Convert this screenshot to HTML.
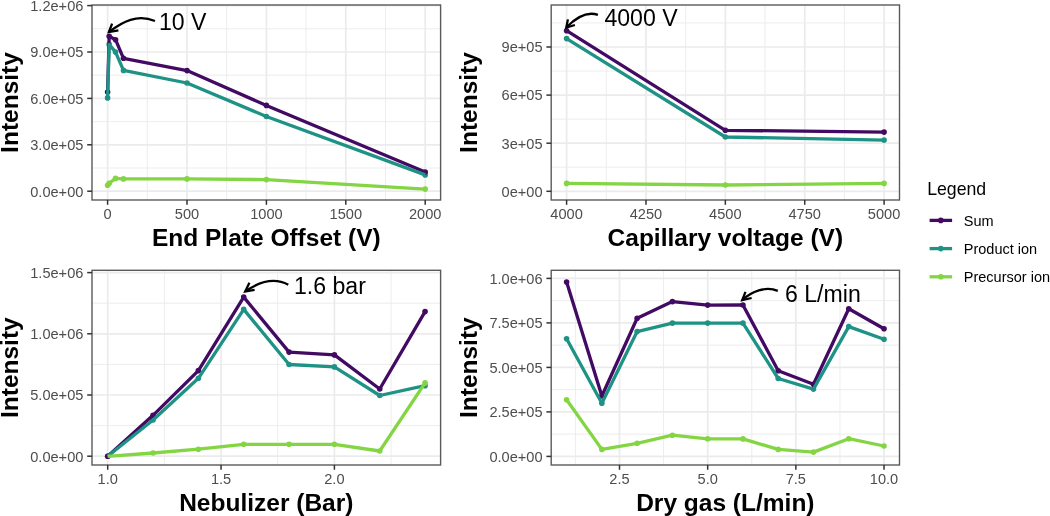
<!DOCTYPE html>
<html><head><meta charset="utf-8"><style>
html,body{margin:0;padding:0;background:#fff;width:1050px;height:516px;overflow:hidden}
svg{display:block;will-change:transform;filter:blur(0.35px)}
text{font-family:"Liberation Sans", sans-serif}
.tk{font-size:14.6px;fill:#4D4D4D}
.ti{font-size:24.5px;font-weight:bold;fill:#000}
.an{font-size:23.1px;fill:#000}
.lt{font-size:17.7px;fill:#000}
.lg{font-size:14.5px;fill:#000}
</style></head><body>
<svg width="1050" height="516" viewBox="0 0 1050 516">
<rect width="1050" height="516" fill="#fff"/>
<line x1="147.3" y1="5" x2="147.3" y2="200" stroke="#EBEBEB" stroke-width="0.9"/>
<line x1="226.7" y1="5" x2="226.7" y2="200" stroke="#EBEBEB" stroke-width="0.9"/>
<line x1="306.1" y1="5" x2="306.1" y2="200" stroke="#EBEBEB" stroke-width="0.9"/>
<line x1="385.5" y1="5" x2="385.5" y2="200" stroke="#EBEBEB" stroke-width="0.9"/>
<line x1="92" y1="168" x2="440.6" y2="168" stroke="#EBEBEB" stroke-width="0.9"/>
<line x1="92" y1="121.6" x2="440.6" y2="121.6" stroke="#EBEBEB" stroke-width="0.9"/>
<line x1="92" y1="75.2" x2="440.6" y2="75.2" stroke="#EBEBEB" stroke-width="0.9"/>
<line x1="92" y1="28.8" x2="440.6" y2="28.8" stroke="#EBEBEB" stroke-width="0.9"/>
<line x1="107.6" y1="5" x2="107.6" y2="200" stroke="#EBEBEB" stroke-width="1.7"/>
<line x1="187" y1="5" x2="187" y2="200" stroke="#EBEBEB" stroke-width="1.7"/>
<line x1="266.4" y1="5" x2="266.4" y2="200" stroke="#EBEBEB" stroke-width="1.7"/>
<line x1="345.8" y1="5" x2="345.8" y2="200" stroke="#EBEBEB" stroke-width="1.7"/>
<line x1="425.2" y1="5" x2="425.2" y2="200" stroke="#EBEBEB" stroke-width="1.7"/>
<line x1="92" y1="191.2" x2="440.6" y2="191.2" stroke="#EBEBEB" stroke-width="1.7"/>
<line x1="92" y1="144.8" x2="440.6" y2="144.8" stroke="#EBEBEB" stroke-width="1.7"/>
<line x1="92" y1="98.4" x2="440.6" y2="98.4" stroke="#EBEBEB" stroke-width="1.7"/>
<line x1="92" y1="52" x2="440.6" y2="52" stroke="#EBEBEB" stroke-width="1.7"/>
<line x1="92" y1="5.6" x2="440.6" y2="5.6" stroke="#EBEBEB" stroke-width="1.7"/>
<circle cx="107.6" cy="97.9" r="2.8" fill="#1E9285"/>
<circle cx="109.19" cy="44.4" r="2.8" fill="#1E9285"/>
<circle cx="115.54" cy="52.1" r="2.8" fill="#1E9285"/>
<circle cx="123.48" cy="70.4" r="2.8" fill="#1E9285"/>
<circle cx="187" cy="83" r="2.8" fill="#1E9285"/>
<circle cx="266.4" cy="116.5" r="2.8" fill="#1E9285"/>
<circle cx="425.2" cy="174.9" r="2.8" fill="#1E9285"/>
<circle cx="107.6" cy="185.2" r="2.8" fill="#84D543"/>
<circle cx="109.19" cy="183.3" r="2.8" fill="#84D543"/>
<circle cx="115.54" cy="178.4" r="2.8" fill="#84D543"/>
<circle cx="123.48" cy="178.9" r="2.8" fill="#84D543"/>
<circle cx="187" cy="178.9" r="2.8" fill="#84D543"/>
<circle cx="266.4" cy="179.6" r="2.8" fill="#84D543"/>
<circle cx="425.2" cy="189.1" r="2.8" fill="#84D543"/>
<circle cx="107.6" cy="92" r="2.8" fill="#420A62"/>
<circle cx="109.19" cy="36.2" r="2.8" fill="#420A62"/>
<circle cx="115.54" cy="39.7" r="2.8" fill="#420A62"/>
<circle cx="123.48" cy="58.3" r="2.8" fill="#420A62"/>
<circle cx="187" cy="70.6" r="2.8" fill="#420A62"/>
<circle cx="266.4" cy="105.4" r="2.8" fill="#420A62"/>
<circle cx="425.2" cy="172" r="2.8" fill="#420A62"/>
<polyline points="107.6,92 109.19,36.2 115.54,39.7 123.48,58.3 187,70.6 266.4,105.4 425.2,172" fill="none" stroke="#420A62" stroke-width="3.3" stroke-linejoin="round" stroke-linecap="butt"/>
<polyline points="107.6,97.9 109.19,44.4 115.54,52.1 123.48,70.4 187,83 266.4,116.5 425.2,174.9" fill="none" stroke="#1E9285" stroke-width="3.3" stroke-linejoin="round" stroke-linecap="butt"/>
<polyline points="107.6,185.2 109.19,183.3 115.54,178.4 123.48,178.9 187,178.9 266.4,179.6 425.2,189.1" fill="none" stroke="#84D543" stroke-width="3.3" stroke-linejoin="round" stroke-linecap="butt"/>
<rect x="92" y="5" width="348.6" height="195" fill="none" stroke="#5a5a5a" stroke-width="1.4"/>
<line x1="107.6" y1="200" x2="107.6" y2="204.8" stroke="#333333" stroke-width="1.5"/>
<line x1="187" y1="200" x2="187" y2="204.8" stroke="#333333" stroke-width="1.5"/>
<line x1="266.4" y1="200" x2="266.4" y2="204.8" stroke="#333333" stroke-width="1.5"/>
<line x1="345.8" y1="200" x2="345.8" y2="204.8" stroke="#333333" stroke-width="1.5"/>
<line x1="425.2" y1="200" x2="425.2" y2="204.8" stroke="#333333" stroke-width="1.5"/>
<line x1="87.2" y1="191.2" x2="92" y2="191.2" stroke="#333333" stroke-width="1.5"/>
<line x1="87.2" y1="144.8" x2="92" y2="144.8" stroke="#333333" stroke-width="1.5"/>
<line x1="87.2" y1="98.4" x2="92" y2="98.4" stroke="#333333" stroke-width="1.5"/>
<line x1="87.2" y1="52" x2="92" y2="52" stroke="#333333" stroke-width="1.5"/>
<line x1="87.2" y1="5.6" x2="92" y2="5.6" stroke="#333333" stroke-width="1.5"/>
<text x="107.6" y="219.1" text-anchor="middle" class="tk">0</text>
<text x="187" y="219.1" text-anchor="middle" class="tk">500</text>
<text x="266.4" y="219.1" text-anchor="middle" class="tk">1000</text>
<text x="345.8" y="219.1" text-anchor="middle" class="tk">1500</text>
<text x="425.2" y="219.1" text-anchor="middle" class="tk">2000</text>
<text x="83.4" y="196.5" text-anchor="end" class="tk">0.0e+00</text>
<text x="83.4" y="150.1" text-anchor="end" class="tk">3.0e+05</text>
<text x="83.4" y="103.7" text-anchor="end" class="tk">6.0e+05</text>
<text x="83.4" y="57.3" text-anchor="end" class="tk">9.0e+05</text>
<text x="83.4" y="10.9" text-anchor="end" class="tk">1.2e+06</text>
<text x="266.3" y="245.6" text-anchor="middle" class="ti">End Plate Offset (V)</text>
<text transform="translate(17.6,102.5) rotate(-90)" x="0" y="0" text-anchor="middle" class="ti">Intensity</text>
<line x1="606.29" y1="5" x2="606.29" y2="200" stroke="#EBEBEB" stroke-width="0.9"/>
<line x1="685.66" y1="5" x2="685.66" y2="200" stroke="#EBEBEB" stroke-width="0.9"/>
<line x1="765.04" y1="5" x2="765.04" y2="200" stroke="#EBEBEB" stroke-width="0.9"/>
<line x1="844.41" y1="5" x2="844.41" y2="200" stroke="#EBEBEB" stroke-width="0.9"/>
<line x1="551.2" y1="167.25" x2="899.5" y2="167.25" stroke="#EBEBEB" stroke-width="0.9"/>
<line x1="551.2" y1="119.15" x2="899.5" y2="119.15" stroke="#EBEBEB" stroke-width="0.9"/>
<line x1="551.2" y1="71.05" x2="899.5" y2="71.05" stroke="#EBEBEB" stroke-width="0.9"/>
<line x1="551.2" y1="22.95" x2="899.5" y2="22.95" stroke="#EBEBEB" stroke-width="0.9"/>
<line x1="566.6" y1="5" x2="566.6" y2="200" stroke="#EBEBEB" stroke-width="1.7"/>
<line x1="645.98" y1="5" x2="645.98" y2="200" stroke="#EBEBEB" stroke-width="1.7"/>
<line x1="725.35" y1="5" x2="725.35" y2="200" stroke="#EBEBEB" stroke-width="1.7"/>
<line x1="804.73" y1="5" x2="804.73" y2="200" stroke="#EBEBEB" stroke-width="1.7"/>
<line x1="884.1" y1="5" x2="884.1" y2="200" stroke="#EBEBEB" stroke-width="1.7"/>
<line x1="551.2" y1="191.3" x2="899.5" y2="191.3" stroke="#EBEBEB" stroke-width="1.7"/>
<line x1="551.2" y1="143.2" x2="899.5" y2="143.2" stroke="#EBEBEB" stroke-width="1.7"/>
<line x1="551.2" y1="95.1" x2="899.5" y2="95.1" stroke="#EBEBEB" stroke-width="1.7"/>
<line x1="551.2" y1="47" x2="899.5" y2="47" stroke="#EBEBEB" stroke-width="1.7"/>
<circle cx="566.6" cy="38.6" r="2.8" fill="#1E9285"/>
<circle cx="725.35" cy="137" r="2.8" fill="#1E9285"/>
<circle cx="884.1" cy="140.1" r="2.8" fill="#1E9285"/>
<circle cx="566.6" cy="183.4" r="2.8" fill="#84D543"/>
<circle cx="725.35" cy="185" r="2.8" fill="#84D543"/>
<circle cx="884.1" cy="183.4" r="2.8" fill="#84D543"/>
<circle cx="566.6" cy="30.7" r="2.8" fill="#420A62"/>
<circle cx="725.35" cy="130.3" r="2.8" fill="#420A62"/>
<circle cx="884.1" cy="132.1" r="2.8" fill="#420A62"/>
<polyline points="566.6,30.7 725.35,130.3 884.1,132.1" fill="none" stroke="#420A62" stroke-width="3.3" stroke-linejoin="round" stroke-linecap="butt"/>
<polyline points="566.6,38.6 725.35,137 884.1,140.1" fill="none" stroke="#1E9285" stroke-width="3.3" stroke-linejoin="round" stroke-linecap="butt"/>
<polyline points="566.6,183.4 725.35,185 884.1,183.4" fill="none" stroke="#84D543" stroke-width="3.3" stroke-linejoin="round" stroke-linecap="butt"/>
<rect x="551.2" y="5" width="348.3" height="195" fill="none" stroke="#5a5a5a" stroke-width="1.4"/>
<line x1="566.6" y1="200" x2="566.6" y2="204.8" stroke="#333333" stroke-width="1.5"/>
<line x1="645.98" y1="200" x2="645.98" y2="204.8" stroke="#333333" stroke-width="1.5"/>
<line x1="725.35" y1="200" x2="725.35" y2="204.8" stroke="#333333" stroke-width="1.5"/>
<line x1="804.73" y1="200" x2="804.73" y2="204.8" stroke="#333333" stroke-width="1.5"/>
<line x1="884.1" y1="200" x2="884.1" y2="204.8" stroke="#333333" stroke-width="1.5"/>
<line x1="546.4" y1="191.3" x2="551.2" y2="191.3" stroke="#333333" stroke-width="1.5"/>
<line x1="546.4" y1="143.2" x2="551.2" y2="143.2" stroke="#333333" stroke-width="1.5"/>
<line x1="546.4" y1="95.1" x2="551.2" y2="95.1" stroke="#333333" stroke-width="1.5"/>
<line x1="546.4" y1="47" x2="551.2" y2="47" stroke="#333333" stroke-width="1.5"/>
<text x="566.6" y="219.1" text-anchor="middle" class="tk">4000</text>
<text x="645.98" y="219.1" text-anchor="middle" class="tk">4250</text>
<text x="725.35" y="219.1" text-anchor="middle" class="tk">4500</text>
<text x="804.73" y="219.1" text-anchor="middle" class="tk">4750</text>
<text x="884.1" y="219.1" text-anchor="middle" class="tk">5000</text>
<text x="542.6" y="196.6" text-anchor="end" class="tk">0e+00</text>
<text x="542.6" y="148.5" text-anchor="end" class="tk">3e+05</text>
<text x="542.6" y="100.4" text-anchor="end" class="tk">6e+05</text>
<text x="542.6" y="52.3" text-anchor="end" class="tk">9e+05</text>
<text x="725.35" y="245.6" text-anchor="middle" class="ti">Capillary voltage (V)</text>
<text transform="translate(476.8,102.5) rotate(-90)" x="0" y="0" text-anchor="middle" class="ti">Intensity</text>
<line x1="164.38" y1="270.3" x2="164.38" y2="465" stroke="#EBEBEB" stroke-width="0.9"/>
<line x1="277.72" y1="270.3" x2="277.72" y2="465" stroke="#EBEBEB" stroke-width="0.9"/>
<line x1="391.07" y1="270.3" x2="391.07" y2="465" stroke="#EBEBEB" stroke-width="0.9"/>
<line x1="92" y1="425.6" x2="440.6" y2="425.6" stroke="#EBEBEB" stroke-width="0.9"/>
<line x1="92" y1="364.4" x2="440.6" y2="364.4" stroke="#EBEBEB" stroke-width="0.9"/>
<line x1="92" y1="303.2" x2="440.6" y2="303.2" stroke="#EBEBEB" stroke-width="0.9"/>
<line x1="107.7" y1="270.3" x2="107.7" y2="465" stroke="#EBEBEB" stroke-width="1.7"/>
<line x1="221.05" y1="270.3" x2="221.05" y2="465" stroke="#EBEBEB" stroke-width="1.7"/>
<line x1="334.4" y1="270.3" x2="334.4" y2="465" stroke="#EBEBEB" stroke-width="1.7"/>
<line x1="92" y1="456.2" x2="440.6" y2="456.2" stroke="#EBEBEB" stroke-width="1.7"/>
<line x1="92" y1="395" x2="440.6" y2="395" stroke="#EBEBEB" stroke-width="1.7"/>
<line x1="92" y1="333.8" x2="440.6" y2="333.8" stroke="#EBEBEB" stroke-width="1.7"/>
<line x1="92" y1="272.6" x2="440.6" y2="272.6" stroke="#EBEBEB" stroke-width="1.7"/>
<circle cx="107.7" cy="456.2" r="2.8" fill="#1E9285"/>
<circle cx="153.04" cy="420" r="2.8" fill="#1E9285"/>
<circle cx="198.38" cy="378.3" r="2.8" fill="#1E9285"/>
<circle cx="243.72" cy="309.4" r="2.8" fill="#1E9285"/>
<circle cx="289.06" cy="364.5" r="2.8" fill="#1E9285"/>
<circle cx="334.4" cy="366.9" r="2.8" fill="#1E9285"/>
<circle cx="379.74" cy="395.5" r="2.8" fill="#1E9285"/>
<circle cx="425.08" cy="385.7" r="2.8" fill="#1E9285"/>
<circle cx="107.7" cy="456.3" r="2.8" fill="#84D543"/>
<circle cx="153.04" cy="453" r="2.8" fill="#84D543"/>
<circle cx="198.38" cy="449.2" r="2.8" fill="#84D543"/>
<circle cx="243.72" cy="444.3" r="2.8" fill="#84D543"/>
<circle cx="289.06" cy="444.3" r="2.8" fill="#84D543"/>
<circle cx="334.4" cy="444.3" r="2.8" fill="#84D543"/>
<circle cx="379.74" cy="451" r="2.8" fill="#84D543"/>
<circle cx="425.08" cy="382.9" r="2.8" fill="#84D543"/>
<circle cx="107.7" cy="456.2" r="2.8" fill="#420A62"/>
<circle cx="153.04" cy="415.3" r="2.8" fill="#420A62"/>
<circle cx="198.38" cy="370.6" r="2.8" fill="#420A62"/>
<circle cx="243.72" cy="297.1" r="2.8" fill="#420A62"/>
<circle cx="289.06" cy="352.1" r="2.8" fill="#420A62"/>
<circle cx="334.4" cy="354.9" r="2.8" fill="#420A62"/>
<circle cx="379.74" cy="389" r="2.8" fill="#420A62"/>
<circle cx="425.08" cy="311.6" r="2.8" fill="#420A62"/>
<polyline points="107.7,456.2 153.04,415.3 198.38,370.6 243.72,297.1 289.06,352.1 334.4,354.9 379.74,389 425.08,311.6" fill="none" stroke="#420A62" stroke-width="3.3" stroke-linejoin="round" stroke-linecap="butt"/>
<polyline points="107.7,456.2 153.04,420 198.38,378.3 243.72,309.4 289.06,364.5 334.4,366.9 379.74,395.5 425.08,385.7" fill="none" stroke="#1E9285" stroke-width="3.3" stroke-linejoin="round" stroke-linecap="butt"/>
<polyline points="107.7,456.3 153.04,453 198.38,449.2 243.72,444.3 289.06,444.3 334.4,444.3 379.74,451 425.08,382.9" fill="none" stroke="#84D543" stroke-width="3.3" stroke-linejoin="round" stroke-linecap="butt"/>
<rect x="92" y="270.3" width="348.6" height="194.7" fill="none" stroke="#5a5a5a" stroke-width="1.4"/>
<line x1="107.7" y1="465" x2="107.7" y2="469.8" stroke="#333333" stroke-width="1.5"/>
<line x1="221.05" y1="465" x2="221.05" y2="469.8" stroke="#333333" stroke-width="1.5"/>
<line x1="334.4" y1="465" x2="334.4" y2="469.8" stroke="#333333" stroke-width="1.5"/>
<line x1="87.2" y1="456.2" x2="92" y2="456.2" stroke="#333333" stroke-width="1.5"/>
<line x1="87.2" y1="395" x2="92" y2="395" stroke="#333333" stroke-width="1.5"/>
<line x1="87.2" y1="333.8" x2="92" y2="333.8" stroke="#333333" stroke-width="1.5"/>
<line x1="87.2" y1="272.6" x2="92" y2="272.6" stroke="#333333" stroke-width="1.5"/>
<text x="107.7" y="484.1" text-anchor="middle" class="tk">1.0</text>
<text x="221.05" y="484.1" text-anchor="middle" class="tk">1.5</text>
<text x="334.4" y="484.1" text-anchor="middle" class="tk">2.0</text>
<text x="83.4" y="461.5" text-anchor="end" class="tk">0.0e+00</text>
<text x="83.4" y="400.3" text-anchor="end" class="tk">5.0e+05</text>
<text x="83.4" y="339.1" text-anchor="end" class="tk">1.0e+06</text>
<text x="83.4" y="277.9" text-anchor="end" class="tk">1.5e+06</text>
<text x="266.3" y="510.6" text-anchor="middle" class="ti">Nebulizer (Bar)</text>
<text transform="translate(17.6,367.65) rotate(-90)" x="0" y="0" text-anchor="middle" class="ti">Intensity</text>
<line x1="575.42" y1="270.3" x2="575.42" y2="465" stroke="#EBEBEB" stroke-width="0.9"/>
<line x1="663.59" y1="270.3" x2="663.59" y2="465" stroke="#EBEBEB" stroke-width="0.9"/>
<line x1="751.77" y1="270.3" x2="751.77" y2="465" stroke="#EBEBEB" stroke-width="0.9"/>
<line x1="839.94" y1="270.3" x2="839.94" y2="465" stroke="#EBEBEB" stroke-width="0.9"/>
<line x1="551.2" y1="434.15" x2="899.5" y2="434.15" stroke="#EBEBEB" stroke-width="0.9"/>
<line x1="551.2" y1="389.65" x2="899.5" y2="389.65" stroke="#EBEBEB" stroke-width="0.9"/>
<line x1="551.2" y1="345.15" x2="899.5" y2="345.15" stroke="#EBEBEB" stroke-width="0.9"/>
<line x1="551.2" y1="300.65" x2="899.5" y2="300.65" stroke="#EBEBEB" stroke-width="0.9"/>
<line x1="619.5" y1="270.3" x2="619.5" y2="465" stroke="#EBEBEB" stroke-width="1.7"/>
<line x1="707.68" y1="270.3" x2="707.68" y2="465" stroke="#EBEBEB" stroke-width="1.7"/>
<line x1="795.86" y1="270.3" x2="795.86" y2="465" stroke="#EBEBEB" stroke-width="1.7"/>
<line x1="884.03" y1="270.3" x2="884.03" y2="465" stroke="#EBEBEB" stroke-width="1.7"/>
<line x1="551.2" y1="456.4" x2="899.5" y2="456.4" stroke="#EBEBEB" stroke-width="1.7"/>
<line x1="551.2" y1="411.9" x2="899.5" y2="411.9" stroke="#EBEBEB" stroke-width="1.7"/>
<line x1="551.2" y1="367.4" x2="899.5" y2="367.4" stroke="#EBEBEB" stroke-width="1.7"/>
<line x1="551.2" y1="322.9" x2="899.5" y2="322.9" stroke="#EBEBEB" stroke-width="1.7"/>
<line x1="551.2" y1="278.4" x2="899.5" y2="278.4" stroke="#EBEBEB" stroke-width="1.7"/>
<circle cx="566.6" cy="338.7" r="2.8" fill="#1E9285"/>
<circle cx="601.87" cy="403.2" r="2.8" fill="#1E9285"/>
<circle cx="637.14" cy="331.6" r="2.8" fill="#1E9285"/>
<circle cx="672.41" cy="323.1" r="2.8" fill="#1E9285"/>
<circle cx="707.68" cy="323.1" r="2.8" fill="#1E9285"/>
<circle cx="742.95" cy="323.1" r="2.8" fill="#1E9285"/>
<circle cx="778.22" cy="378.5" r="2.8" fill="#1E9285"/>
<circle cx="813.49" cy="389.1" r="2.8" fill="#1E9285"/>
<circle cx="848.76" cy="326.6" r="2.8" fill="#1E9285"/>
<circle cx="884.03" cy="339.3" r="2.8" fill="#1E9285"/>
<circle cx="566.6" cy="399.7" r="2.8" fill="#84D543"/>
<circle cx="601.87" cy="449.4" r="2.8" fill="#84D543"/>
<circle cx="637.14" cy="443.3" r="2.8" fill="#84D543"/>
<circle cx="672.41" cy="435.2" r="2.8" fill="#84D543"/>
<circle cx="707.68" cy="438.8" r="2.8" fill="#84D543"/>
<circle cx="742.95" cy="438.9" r="2.8" fill="#84D543"/>
<circle cx="778.22" cy="449.4" r="2.8" fill="#84D543"/>
<circle cx="813.49" cy="452.1" r="2.8" fill="#84D543"/>
<circle cx="848.76" cy="438.7" r="2.8" fill="#84D543"/>
<circle cx="884.03" cy="446" r="2.8" fill="#84D543"/>
<circle cx="566.6" cy="282.1" r="2.8" fill="#420A62"/>
<circle cx="601.87" cy="396" r="2.8" fill="#420A62"/>
<circle cx="637.14" cy="318.3" r="2.8" fill="#420A62"/>
<circle cx="672.41" cy="301.6" r="2.8" fill="#420A62"/>
<circle cx="707.68" cy="305.1" r="2.8" fill="#420A62"/>
<circle cx="742.95" cy="305" r="2.8" fill="#420A62"/>
<circle cx="778.22" cy="370.7" r="2.8" fill="#420A62"/>
<circle cx="813.49" cy="384.3" r="2.8" fill="#420A62"/>
<circle cx="848.76" cy="308.7" r="2.8" fill="#420A62"/>
<circle cx="884.03" cy="328.7" r="2.8" fill="#420A62"/>
<polyline points="566.6,282.1 601.87,396 637.14,318.3 672.41,301.6 707.68,305.1 742.95,305 778.22,370.7 813.49,384.3 848.76,308.7 884.03,328.7" fill="none" stroke="#420A62" stroke-width="3.3" stroke-linejoin="round" stroke-linecap="butt"/>
<polyline points="566.6,338.7 601.87,403.2 637.14,331.6 672.41,323.1 707.68,323.1 742.95,323.1 778.22,378.5 813.49,389.1 848.76,326.6 884.03,339.3" fill="none" stroke="#1E9285" stroke-width="3.3" stroke-linejoin="round" stroke-linecap="butt"/>
<polyline points="566.6,399.7 601.87,449.4 637.14,443.3 672.41,435.2 707.68,438.8 742.95,438.9 778.22,449.4 813.49,452.1 848.76,438.7 884.03,446" fill="none" stroke="#84D543" stroke-width="3.3" stroke-linejoin="round" stroke-linecap="butt"/>
<rect x="551.2" y="270.3" width="348.3" height="194.7" fill="none" stroke="#5a5a5a" stroke-width="1.4"/>
<line x1="619.5" y1="465" x2="619.5" y2="469.8" stroke="#333333" stroke-width="1.5"/>
<line x1="707.68" y1="465" x2="707.68" y2="469.8" stroke="#333333" stroke-width="1.5"/>
<line x1="795.86" y1="465" x2="795.86" y2="469.8" stroke="#333333" stroke-width="1.5"/>
<line x1="884.03" y1="465" x2="884.03" y2="469.8" stroke="#333333" stroke-width="1.5"/>
<line x1="546.4" y1="456.4" x2="551.2" y2="456.4" stroke="#333333" stroke-width="1.5"/>
<line x1="546.4" y1="411.9" x2="551.2" y2="411.9" stroke="#333333" stroke-width="1.5"/>
<line x1="546.4" y1="367.4" x2="551.2" y2="367.4" stroke="#333333" stroke-width="1.5"/>
<line x1="546.4" y1="322.9" x2="551.2" y2="322.9" stroke="#333333" stroke-width="1.5"/>
<line x1="546.4" y1="278.4" x2="551.2" y2="278.4" stroke="#333333" stroke-width="1.5"/>
<text x="619.5" y="484.1" text-anchor="middle" class="tk">2.5</text>
<text x="707.68" y="484.1" text-anchor="middle" class="tk">5.0</text>
<text x="795.86" y="484.1" text-anchor="middle" class="tk">7.5</text>
<text x="884.03" y="484.1" text-anchor="middle" class="tk">10.0</text>
<text x="542.6" y="461.7" text-anchor="end" class="tk">0.0e+00</text>
<text x="542.6" y="417.2" text-anchor="end" class="tk">2.5e+05</text>
<text x="542.6" y="372.7" text-anchor="end" class="tk">5.0e+05</text>
<text x="542.6" y="328.2" text-anchor="end" class="tk">7.5e+05</text>
<text x="542.6" y="283.7" text-anchor="end" class="tk">1.0e+06</text>
<text x="725.35" y="510.6" text-anchor="middle" class="ti">Dry gas (L/min)</text>
<text transform="translate(476.8,367.65) rotate(-90)" x="0" y="0" text-anchor="middle" class="ti">Intensity</text>
<path d="M155.0,20.95 C137.5,13.91 122.75,21.22 108.9,32.1" fill="none" stroke="#000" stroke-width="2.3"/>
<path d="M112.1,23.7 L108.9,32.1 L118.4,30.4" fill="none" stroke="#000" stroke-width="2.3" stroke-linejoin="miter" stroke-miterlimit="10"/>
<text x="159.0" y="29.9" class="an">10 V</text>
<path d="M597.9,14.9 C585.69,10.54 574.32,19.26 566.3,27.5" fill="none" stroke="#000" stroke-width="2.3"/>
<path d="M567.9,19.4 L566.3,27.5 L574.9,25.0" fill="none" stroke="#000" stroke-width="2.3" stroke-linejoin="miter" stroke-miterlimit="10"/>
<text x="604.4" y="25.8" class="an">4000 V</text>
<path d="M288.3,284.7 C273.28,276.74 258.11,282.52 245.2,291.4" fill="none" stroke="#000" stroke-width="2.3"/>
<path d="M249.4,282.7 L245.2,291.4 L254.6,289.9" fill="none" stroke="#000" stroke-width="2.3" stroke-linejoin="miter" stroke-miterlimit="10"/>
<text x="294.0" y="293.5" class="an">1.6 bar</text>
<path d="M777.8,290.9 C765.37,285.78 751.58,291.68 742.2,300.1" fill="none" stroke="#000" stroke-width="2.3"/>
<path d="M745.5,291.8 L742.2,300.1 L751.6,298.0" fill="none" stroke="#000" stroke-width="2.3" stroke-linejoin="miter" stroke-miterlimit="10"/>
<text x="785.0" y="301.6" class="an">6 L/min</text>
<text x="927.2" y="194.8" class="lt">Legend</text>
<line x1="929.6" y1="220.4" x2="952.1" y2="220.4" stroke="#420A62" stroke-width="3.3"/>
<circle cx="940.8" cy="220.4" r="2.8" fill="#420A62"/>
<text x="963.8" y="225.7" class="lg">Sum</text>
<line x1="929.6" y1="248.6" x2="952.1" y2="248.6" stroke="#1E9285" stroke-width="3.3"/>
<circle cx="940.8" cy="248.6" r="2.8" fill="#1E9285"/>
<text x="963.8" y="253.9" class="lg">Product ion</text>
<line x1="929.6" y1="276.8" x2="952.1" y2="276.8" stroke="#84D543" stroke-width="3.3"/>
<circle cx="940.8" cy="276.8" r="2.8" fill="#84D543"/>
<text x="963.8" y="282.1" class="lg">Precursor ion</text>
</svg>
</body></html>
